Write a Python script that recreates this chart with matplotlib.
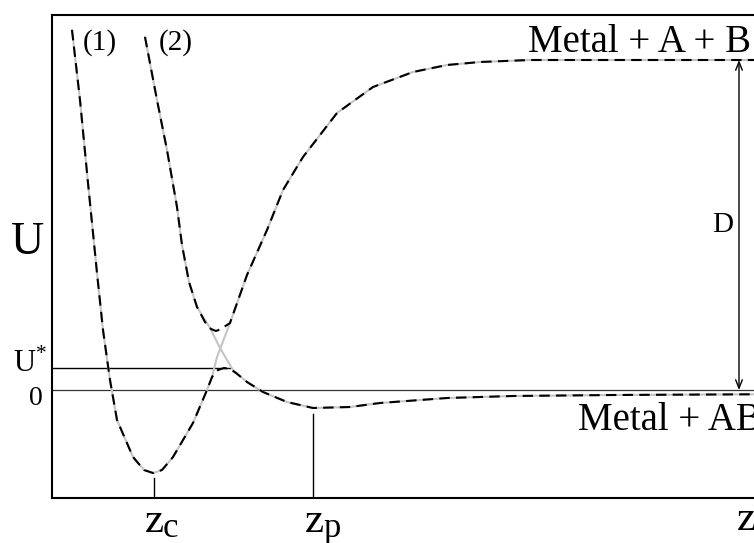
import matplotlib
matplotlib.use('Agg')
import matplotlib.pyplot as plt

plt.rcParams['font.family'] = ['Liberation Serif', 'DejaVu Serif']
plt.rcParams['mathtext.fontset'] = 'custom'
plt.rcParams['mathtext.rm'] = 'Liberation Serif'

# diabatic curve (1): metal + AB chemisorbed well, rising to Metal + A + B
z1 = [0.20, 0.28, 0.36, 0.45, 0.51, 0.58, 0.65, 0.81, 0.92, 1.01, 1.10, 1.21,
      1.41, 1.55, 1.60, 1.65, 1.78, 1.95, 2.15, 2.31, 2.51, 2.85, 3.21, 3.61,
      3.95, 4.28, 4.78, 7.60]
u1 = [3.60, 2.90, 2.07, 1.17, 0.60, 0.10, -0.30, -0.67, -0.80, -0.83, -0.80,
      -0.67, -0.33, 0.00, 0.13, 0.33, 0.67, 1.15, 1.60, 2.00, 2.33, 2.77, 3.03,
      3.18, 3.25, 3.28, 3.30, 3.30]

# diabatic curve (2): physisorbed AB
z2 = [0.93, 1.05, 1.15, 1.25, 1.30, 1.37, 1.45, 1.58, 1.68, 1.81, 1.95, 2.11,
      2.35, 2.61, 2.98, 3.28, 3.95, 4.61, 5.61, 7.60]
u2 = [3.53, 2.90, 2.40, 1.83, 1.45, 1.08, 0.83, 0.62, 0.42, 0.20, 0.08, -0.02,
      -0.12, -0.18, -0.17, -0.13, -0.08, -0.06, -0.05, -0.04]

# rounded joins of the adiabatic curves near the crossing
low_join_z = [1.66, 1.72, 1.78, 1.84]
low_join_u = [0.20, 0.22, 0.21, 0.17]
up_join_z = [1.53, 1.59, 1.64, 1.69]
up_join_u = [0.68, 0.61, 0.59, 0.61]

u_star = 0.22
u_star_end = 1.78
z_c = 1.02
z_p = 2.61
d_top = 3.30
d_x = 6.87

# lower adiabatic: curve 1 up to the join, then curve 2
low_z = z1[:15] + low_join_z + z2[10:]
low_u = u1[:15] + low_join_u + u2[10:]
# upper adiabatic: curve 2 down to the join, then curve 1
up_z = z2[:7] + up_join_z + z1[16:]
up_u = u2[:7] + up_join_u + u1[16:]

fig = plt.figure(figsize=(7.54, 5.43), dpi=100)
ax = fig.add_axes([52 / 754, 45 / 543, 760 / 754, 483 / 543])
ax.set_xlim(0, 7.6)
ax.set_ylim(-1.08, 3.75)

ax.plot(z1, u1, color='#c4c4c4', lw=1.5, zorder=2)
ax.plot(z2, u2, color='#c4c4c4', lw=1.5, zorder=2)
ax.plot(low_z, low_u, color='black', lw=1.5, ls=(0, (5, 3)), zorder=3)
ax.plot(up_z, up_u, color='black', lw=1.5, ls=(0, (5, 3)), zorder=3)

ax.axhline(0, color='#333333', lw=0.9, zorder=1)
ax.plot([0, u_star_end], [u_star, u_star], color='black', lw=1.0, zorder=1)
ax.plot([z_c, z_c], [-1.08, -0.88], color='black', lw=1.0)
ax.plot([z_p, z_p], [-1.08, -0.24], color='black', lw=1.0)
ax.annotate('', xy=(d_x, d_top), xytext=(d_x, 0.0),
            arrowprops=dict(arrowstyle='<->,head_length=0.5,head_width=0.2',
                            lw=1.0, color='black', shrinkA=0, shrinkB=0,
                            mutation_scale=12))

for s in ['left', 'top', 'bottom']:
    ax.spines[s].set_linewidth(1.5)
ax.spines['right'].set_visible(False)
ax.set_xticks([])
ax.set_yticks([])

ax.text(-0.24, 1.47, 'U', fontsize=33, ha='center', va='center')
ax.text(-0.39, 0.18, 'U$^{*}$', fontsize=22, ha='left', va='baseline')
ax.text(-0.16, -0.15, '0', fontsize=20, ha='center', va='baseline')
ax.text(6.71, 1.65, 'D', fontsize=21, ha='center', va='center')
ax.text(4.76, 3.38, 'Metal + A + B', fontsize=28, ha='left', va='baseline')
ax.text(5.26, -0.40, 'Metal + AB', fontsize=28, ha='left', va='baseline')
ax.text(0.31, 3.40, '(1)', fontsize=21, ha='left', va='baseline')
ax.text(1.07, 3.40, '(2)', fontsize=21, ha='left', va='baseline')

ax.text(0.93, -1.42, 'z', fontsize=31, ha='left', va='baseline')
ax.text(1.11, -1.47, 'c', fontsize=25, ha='left', va='baseline')
ax.text(2.53, -1.42, 'z', fontsize=31, ha='left', va='baseline')
ax.text(2.71, -1.47, 'p', fontsize=25, ha='left', va='baseline')
ax.text(6.85, -1.40, 'z', fontsize=31, ha='left', va='baseline')

fig.savefig('out.png', dpi=100)
